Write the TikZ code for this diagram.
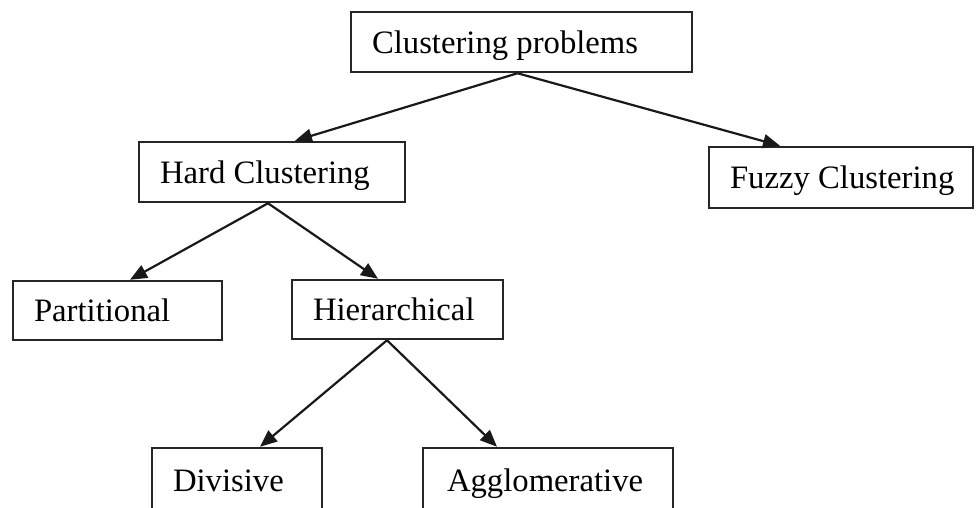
\documentclass[tikz,border=0pt]{standalone}
\usepackage{fontspec}
\setmainfont{Liberation Serif}
\usetikzlibrary{arrows.meta}
\newcommand{\lbox}[2]{\makebox[#1][l]{#2}}
\begin{document}
\begin{tikzpicture}[x=1pt,y=-1pt,
  cbox/.style={draw=black!85,line width=2.5pt,fill=white,rectangle,
    inner xsep=21pt,inner ysep=0pt,
    font=\fontsize{32.7}{36}\selectfont,
    text height=22pt,text depth=0pt},
  conn/.style={draw=black!90,line width=2.2pt,-{Triangle[length=17pt,width=14pt]}}]
\useasboundingbox (0,0) rectangle (976,507);
\node[cbox,minimum height=60pt] (cp) at (521.5,42) {\lbox{299pt}{Clustering problems}};
\node[cbox,minimum height=60pt] (hard) at (272,172) {\lbox{224pt}{Hard Clustering}};
\node[cbox,minimum height=61pt] (fuzzy) at (841,177.5) {\lbox{222pt}{Fuzzy Clustering}};
\node[cbox,minimum height=59pt] (part) at (117.5,310.5) {\lbox{167pt}{Partitional}};
\node[cbox,minimum height=59pt] (hier) at (397.5,309.5) {\lbox{169pt}{Hierarchical}};
\node[cbox,minimum height=64pt] (div) at (237,480) {\lbox{128pt}{Divisive}};
\node[cbox,minimum height=64pt,inner xsep=24pt] (agg) at (548,480) {\lbox{202pt}{Agglomerative}};
\draw[conn] ([xshift=-4pt]cp.south) -- ([xshift=23pt]hard.north);
\draw[conn] ([xshift=-4pt]cp.south) -- ([xshift=-61pt]fuzzy.north);
\draw[conn] ([xshift=-4pt]hard.south) -- ([xshift=12.5pt]part.north);
\draw[conn] ([xshift=-4pt]hard.south) -- ([xshift=-19.5pt]hier.north);
\draw[conn] ([xshift=-10.5pt]hier.south) -- ([xshift=23pt]div.north);
\draw[conn] ([xshift=-10.5pt]hier.south) -- ([xshift=-51pt]agg.north);
\end{tikzpicture}
\end{document}
